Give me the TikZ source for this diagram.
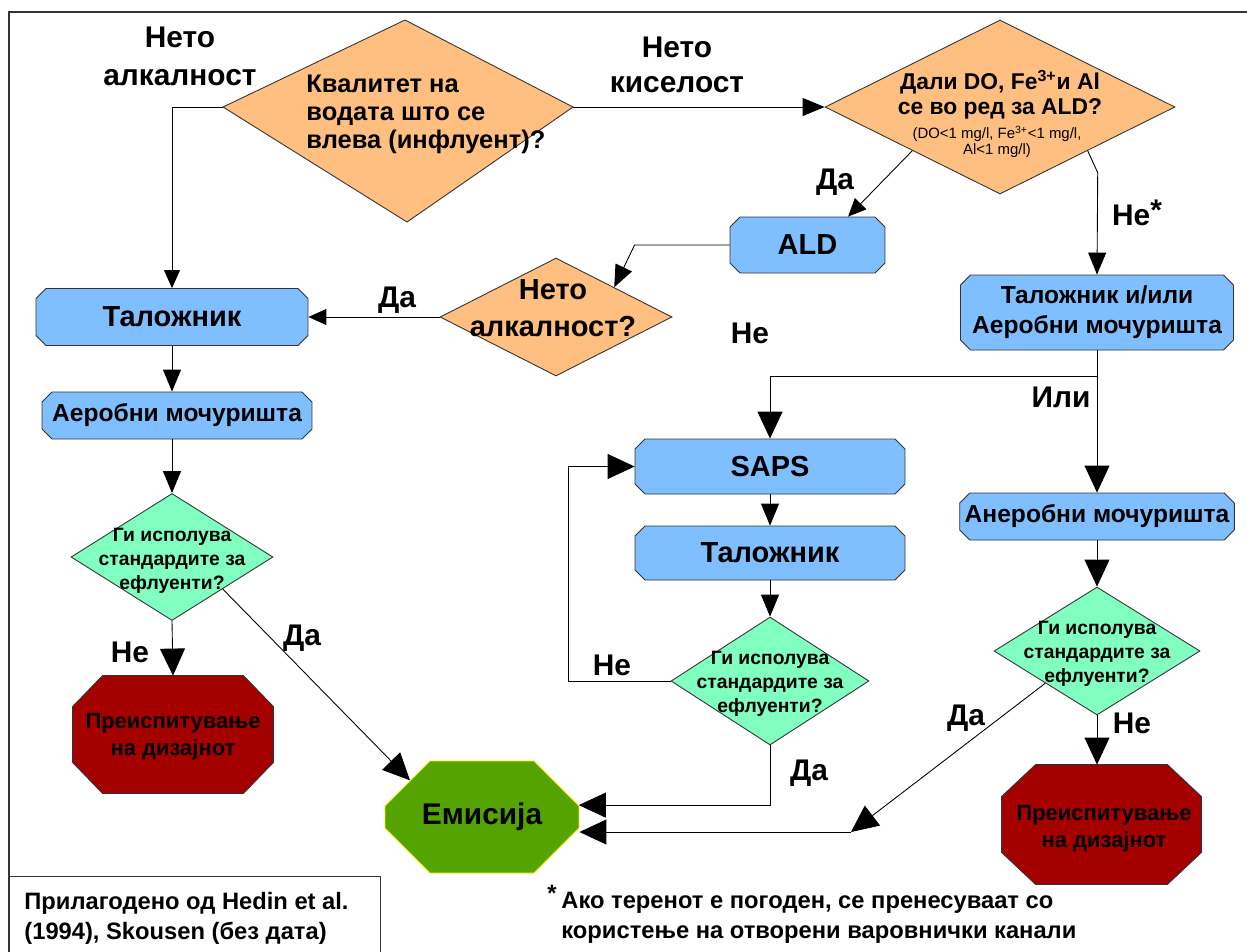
\documentclass[tikz,border=0pt]{standalone}
\usepackage{fontspec}
\setmainfont{Liberation Sans}
\usetikzlibrary{shapes.geometric,shapes.misc,arrows.meta,positioning,calc}

\definecolor{orangefill}{HTML}{FFBF80}
\definecolor{bluefill}{HTML}{80BFFF}
\definecolor{greenfill}{HTML}{80FFC0}
\definecolor{redfill}{HTML}{A50000}
\definecolor{emisfill}{HTML}{55A300}
\definecolor{emisedge}{HTML}{F0F000}
\definecolor{edge}{HTML}{333333}

\newcommand{\fs}[2]{\fontsize{#1}{#2}\selectfont\bfseries}

\tikzset{
  txt/.style={inner sep=0pt, align=center, text=black},
  lbl/.style={txt, font=\fs{17}{20}},
  decision/.style={diamond, draw=edge, fill=orangefill, inner sep=0pt},
  check/.style={diamond, draw=edge, fill=greenfill, inner sep=0pt},
  process/.style={chamfered rectangle, chamfered rectangle xsep=0.1cm,
    chamfered rectangle ysep=0.1cm, draw=edge, fill=bluefill, inner sep=0pt,
    align=center, font=\fs{16.5}{18}},
  stopbox/.style={rectangle, inner sep=0pt},
  octagon/.style n args={3}{insert path={
    ($(#1.north west)+(#2,0)$) -- ($(#1.north east)+(-#2,0)$) --
    ($(#1.north east)+(0,#3)$) -- ($(#1.south east)+(0,-#3)$) --
    ($(#1.south east)+(-#2,0)$) -- ($(#1.south west)+(#2,0)$) --
    ($(#1.south west)+(0,-#3)$) -- ($(#1.north west)+(0,#3)$) -- cycle}},
  arrS/.style={-{Triangle[length=3.6mm,width=3.2mm]}},
  arrM/.style={-{Triangle[length=4.4mm,width=3.6mm]}},
  arrL/.style={-{Triangle[length=5.4mm,width=5mm]}},
}

\begin{document}
\begin{tikzpicture}[x=0.02cm, y=-0.02cm, line width=0.5pt]
\useasboundingbox (0,0) rectangle (1247,951);

% frame
\draw[edge, line width=0.7pt] (1260,12) -- (9,12) -- (9,960);

% first question
\coordinate (d1t) at (405,20);
\coordinate (d1r) at (573,107);
\coordinate (d1b) at (407,222);
\coordinate (d1l) at (223,107);
\filldraw[draw=edge, fill=orangefill] (d1t) -- (d1r) -- (d1b) -- (d1l) -- cycle;
\node[txt, align=left, anchor=west, font=\fs{14.5}{16}] (d1txt) at (306,114)
  {Квалитет на\\водата што се\\влева (инфлуент)?};

\node[lbl, font=\fs{17}{21.5}] (alk) at (180,56) {Нето\\алкалност};
\node[lbl, font=\fs{17}{20}] (kis) at (677,65) {Нето\\киселост};

% acid branch
\node[decision, minimum width=7cm, minimum height=3.48cm] (d2) at (1000,107) {};
\node[txt, font=\fs{13}{14.7}] (d2q) at (1000,95)
  {Дали DO, Fe\textsuperscript{3+}и Al\\се во ред за ALD?};
\node[txt, font=\fontsize{8.5}{6.5}\selectfont] (d2c) at (997,142)
  {(DO<1 mg/l, Fe\textsuperscript{3+}<1 mg/l,\\Al<1 mg/l)};

\node[process, minimum width=3.1cm, minimum height=1.12cm] (ald) at (807.5,245) {ALD};

\node[decision, minimum width=4.64cm, minimum height=2.36cm] (d3) at (556,317) {};
\node[txt, font=\fs{16.5}{21}] (d3t) at (553,308) {Нето\\алкалност?};

% left column
\node[process, minimum width=5.44cm, minimum height=1.14cm] (tal1) at (172,317) {Таложник};
\node[process, minimum width=5.4cm, minimum height=0.94cm, font=\fs{14}{17}] (aer1) at (177,415.5)
  {Аеробни мочуришта};
\node[check, minimum width=4.04cm, minimum height=2.54cm] (d4) at (172,557) {};
\node[txt, font=\fs{11}{13.6}] (d4t) at (172,561) {Ги исполува\\стандардите за\\ефлуенти?};
\node[stopbox, minimum width=4cm, minimum height=2.34cm] (oct1) at (173,734.5) {};
\filldraw[fill=redfill, draw=edge, octagon={oct1}{30}{31}];
\node[txt, font=\fs{12.5}{15.5}] (oct1t) at (173,737) {Преиспитување\\на дизајнот};

% emission
\node[chamfered rectangle, chamfered rectangle xsep=0.68cm, chamfered rectangle ysep=0.62cm,
  minimum width=3.88cm, minimum height=2.24cm, fill=emisfill, draw=emisedge,
  inner sep=0pt, font=\fs{17}{20}] (emis) at (482,817) {Емисија};

% middle column
\node[process, minimum width=5.4cm, minimum height=1.1cm] (saps) at (770,466.5) {SAPS};
\node[process, minimum width=5.4cm, minimum height=1.08cm] (tal2) at (770,553) {Таложник};
\node[check, minimum width=3.96cm, minimum height=2.56cm] (d5) at (770,681) {};
\node[txt, font=\fs{11}{13.6}] (d5t) at (770,684) {Ги исполува\\стандардите за\\ефлуенти?};

% right column
\node[process, minimum width=5.46cm, minimum height=1.5cm, font=\fs{14}{17}] (talaer) at (1097,312.5)
  {Таложник и/или\\Аеробни мочуришта};
\node[process, minimum width=5.42cm, minimum height=0.94cm, font=\fs{14}{17}] (aner) at (1097,516.5)
  {Анеробни мочуришта};
\node[check, minimum width=4.12cm, minimum height=2.56cm] (d6) at (1097,651) {};
\node[txt, font=\fs{11}{13.6}] (d6t) at (1097,654) {Ги исполува\\стандардите за\\ефлуенти?};
\node[stopbox, minimum width=3.98cm, minimum height=2.38cm] (oct2) at (1101.5,824.5) {};
\filldraw[fill=redfill, draw=edge, octagon={oct2}{34}{32}];
\node[txt, font=\fs{12.5}{15.5}] (oct2t) at (1104,829) {Преиспитување\\на дизајнот};

% connectors
\draw[arrS] (d1l) -| (tal1.north);
\draw[arrM] (d1r) -- (d2.west);
\draw[arrS] (d2.south west) -- (ald.35);
\draw[arrM] (d2.south east) -- ++(10,22) -- (talaer.north);
\draw[arrM] (ald.west) -- ++(-95,0) -- (d3.north east);
\draw[arrS] (d3.west) -- (tal1.east);
\draw[arrM] (tal1.south) -- (tal1.south |- aer1.north);
\draw[arrM] (tal1.south |- aer1.south) -- (d4.north);
\draw[arrL] (d4.south) -- (oct1.north);
\draw[arrL] (d4.south east) -- (emis.153);
\coordinate (split) at ($(talaer.south)+(0,26)$);
\draw (talaer.south) -- (split);
\draw[arrL] (split) -| (saps.north);
\draw[arrL] (split) -- (aner.north);
\draw[arrM] (saps.south) -- (tal2.north);
\draw[arrM] (tal2.south) -- (d5.north);
\draw[arrL] (d5.west) -- ++(-102,0) |- (saps.west);
\draw[arrL] (d5.south) |- (emis.7);
\draw[arrL] (aner.south) -- (d6.north);
\draw[arrL] (d6.south) -- (d6.south |- oct2.north);
\coordinate (djoin) at (851,832);
\draw[arrL] (d6.south west) -- (djoin);
\draw[arrL] (djoin) -- (djoin -| emis.east);

% branch labels
\node[lbl] (da1) at (835,182) {Да};
\node[lbl] (ne1) at (1137,213) {Не\raisebox{3pt}{*}};
\node[lbl] (da2) at (397,300) {Да};
\node[lbl] (ne2) at (750,333) {Не};
\node[lbl] (ili) at (1061,397) {Или};
\node[lbl] (ne3) at (130,652) {Не};
\node[lbl] (da3) at (302,638) {Да};
\node[lbl] (ne4) at (612,665) {Не};
\node[lbl] (da4) at (809,773) {Да};
\node[lbl] (da5) at (966,718) {Да};
\node[lbl] (ne5) at (1132,723) {Не};

% notes
\node[draw=edge, anchor=north west, minimum width=7.42cm, minimum height=1.8cm] (cite) at (9,876) {};
\node[txt, align=left, anchor=west, font=\fs{13.5}{17}] (citetxt) at (24,918)
  {Прилагодено од Hedin et al.\\(1994), Skousen (без дата)};
\node[txt, font=\fs{13.5}{17}] (star) at (552,893) {*};
\node[txt, align=left, anchor=west, font=\fs{13.5}{17}] (note) at (561,918)
  {Ако теренот е погоден, се пренесуваат со\\користење на отворени варовнички канали};
\end{tikzpicture}
\end{document}
